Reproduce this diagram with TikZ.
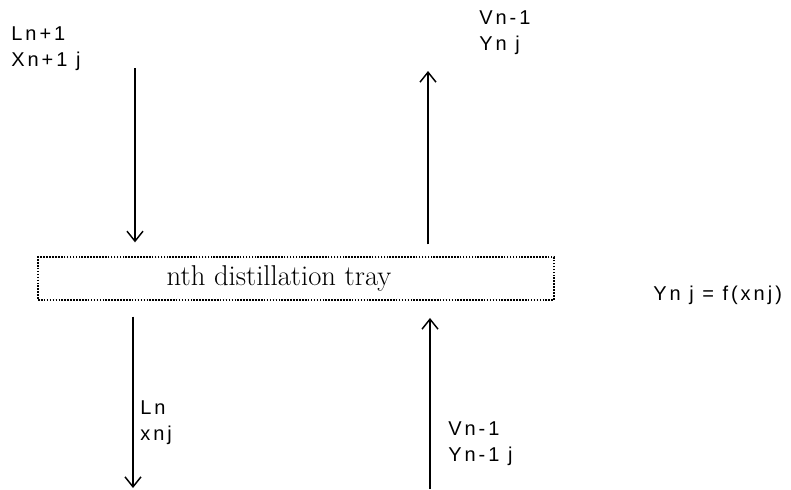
\documentclass[tikz,border=0pt]{standalone}
\usepackage{fontspec}
\newfontfamily\streamfont[LetterSpace=15]{Liberation Sans}
\usepackage{tikz}
\usetikzlibrary{arrows.meta, positioning}

\tikzset{
    flow/.style={line width=1.1pt, -{Straight Barb[length=7.5pt, width=12pt, line width=1.1pt]}},
    stream/.style={align=left, inner sep=0pt, font=\streamfont\fontsize{15}{20}\selectfont},
    traybox/.style={draw, densely dotted, line width=1.2pt, minimum width=387pt, minimum height=32pt, inner sep=0pt},
    traytext/.style={inner sep=0pt, font=\fontsize{21.5}{21.5}\selectfont}
}

\begin{document}
\begin{tikzpicture}[x=0.75pt, y=-0.75pt]
    \useasboundingbox (0,0) rectangle (791,489);

    % tray
    \node (tray) [traybox] at (296,278.5) {};
    \node (tray_lbl) [traytext, xshift=-12.75pt] at (tray.center) {nth distillation tray};

    % free ends of the streams
    \coordinate (lin) at (135,68);
    \coordinate (vout) at (428,71);
    \coordinate (lout) at (133,488);
    \coordinate (vin) at (430,489);

    % labels
    \node (lin_lbl) [stream, anchor=north west] at (11,26) {Ln+1\\Xn+1 j};
    \node (vout_lbl) [stream, anchor=north west] at (479,10) {Vn-1\\Yn j};
    \node (lout_lbl) [stream, anchor=north west] at (140,400) {Ln\\xnj};
    \node (vin_lbl) [stream, anchor=north west] at (448,421) {Vn-1\\Yn-1 j};
    \node (equil) [stream, anchor=west] at (653,295) {Yn j = f(xnj)};

    \draw[flow, shorten >=10.5pt] (lin) -- (lin |- tray.north);
    \draw[flow, shorten <=9pt] (tray.north -| vout) -- (vout);
    \draw[flow, shorten <=12pt] (tray.south -| lout) -- (lout);
    \draw[flow, shorten >=13pt] (vin) -- (tray.south -| vin);
\end{tikzpicture}
\end{document}
